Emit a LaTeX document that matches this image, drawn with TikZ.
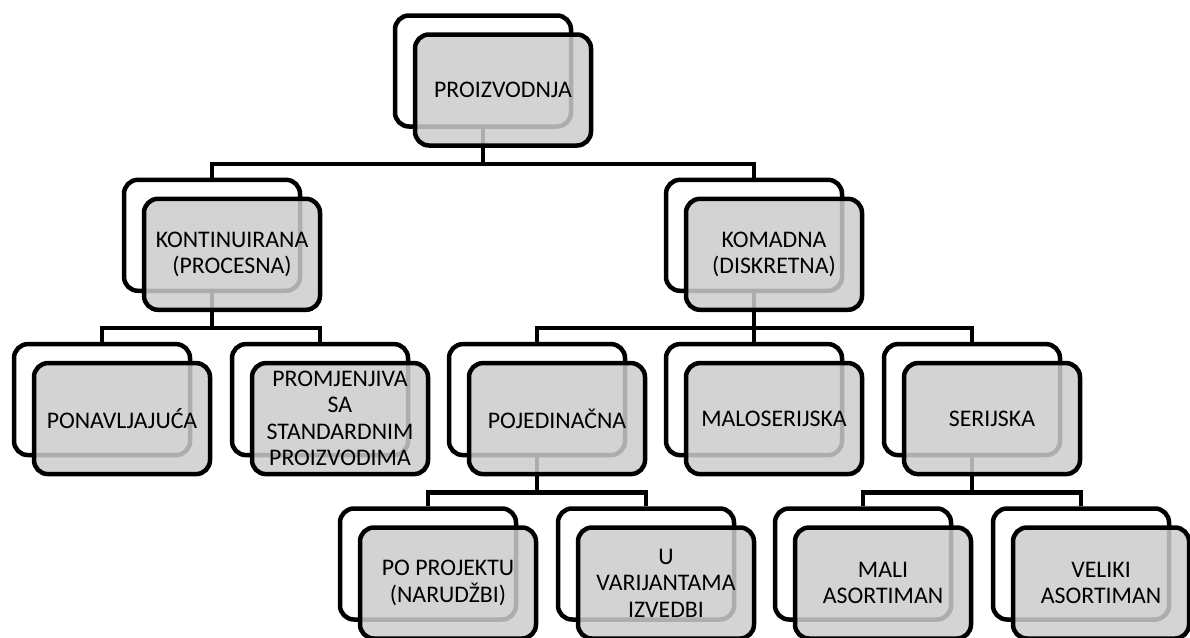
\documentclass[tikz,border=0pt]{standalone}
\usepackage{fontspec}
\setmainfont{Carlito}
\begin{document}
\begin{tikzpicture}[x=1pt,y=-1pt,
    backbox/.style={draw, line width=4.5pt, rounded corners=14pt, fill=white, minimum width=176pt, minimum height=111pt},
    frontbox/.style={draw, line width=4.5pt, rounded corners=14pt, fill=black!20, fill opacity=0.85, text opacity=1, minimum width=176pt, minimum height=111pt, inner sep=0pt, align=center, font=\fontsize{23.8}{26.5}\selectfont},
    link/.style={line width=4.5pt}]
    \useasboundingbox (0,0) rectangle (1190,637);
    % back boxes
    \node[backbox] (proizb) at (483,71) {};
    \node[backbox] (kontb) at (212,235.3) {};
    \node[backbox] (komb) at (754,235.3) {};
    \node[backbox] (ponb) at (102,399.6) {};
    \node[backbox] (promb) at (320,399.6) {};
    \node[backbox] (pojb) at (537,399.6) {};
    \node[backbox] (malob) at (754,399.6) {};
    \node[backbox] (serb) at (972,399.6) {};
    \node[backbox] (projb) at (428,564) {};
    \node[backbox] (varb) at (646,564) {};
    \node[backbox] (malib) at (863,564) {};
    \node[backbox] (velb) at (1081,564) {};
    % connectors
    \draw[link] (proizb.south) -- ++(0,35) -| (kontb.north);
    \draw[link] (proizb.south) -- ++(0,35) -| (komb.north);
    \draw[link] (kontb.south) -- ++(0,35) -| (ponb.north);
    \draw[link] (kontb.south) -- ++(0,35) -| (promb.north);
    \draw[link] (komb.south) -- ++(0,35) -| (pojb.north);
    \draw[link] (komb.south) -- ++(0,35) -| (malob.north);
    \draw[link] (komb.south) -- ++(0,35) -| (serb.north);
    \draw[link] (pojb.south) -- ++(0,35) -| (projb.north);
    \draw[link] (pojb.south) -- ++(0,35) -| (varb.north);
    \draw[link] (serb.south) -- ++(0,35) -| (malib.north);
    \draw[link] (serb.south) -- ++(0,35) -| (velb.north);
    % front boxes
    \node[frontbox] (proiz) at (503,90) {PROIZVODNJA};
    \node[frontbox] (kont) at (232,254.3) {KONTINUIRANA\\(PROCESNA)};
    \node[frontbox] (kom) at (774,254.3) {KOMADNA\\(DISKRETNA)};
    \node[frontbox] (pon) at (122,418.6) {PONAVLJAJUĆA};
    \node[frontbox] (prom) at (340,418.6) {PROMJENJIVA\\SA\\STANDARDNIM\\PROIZVODIMA};
    \node[frontbox] (poj) at (557,418.6) {POJEDINAČNA};
    \node[frontbox] (malo) at (774,418.6) {MALOSERIJSKA};
    \node[frontbox] (ser) at (992,418.6) {SERIJSKA};
    \node[frontbox] (proj) at (448,583) {PO PROJEKTU\\(NARUDŽBI)};
    \node[frontbox] (var) at (666,583) {U\\VARIJANTAMA\\IZVEDBI};
    \node[frontbox] (mali) at (883,583) {MALI\\ASORTIMAN};
    \node[frontbox] (vel) at (1101,583) {VELIKI\\ASORTIMAN};
\end{tikzpicture}
\end{document}
